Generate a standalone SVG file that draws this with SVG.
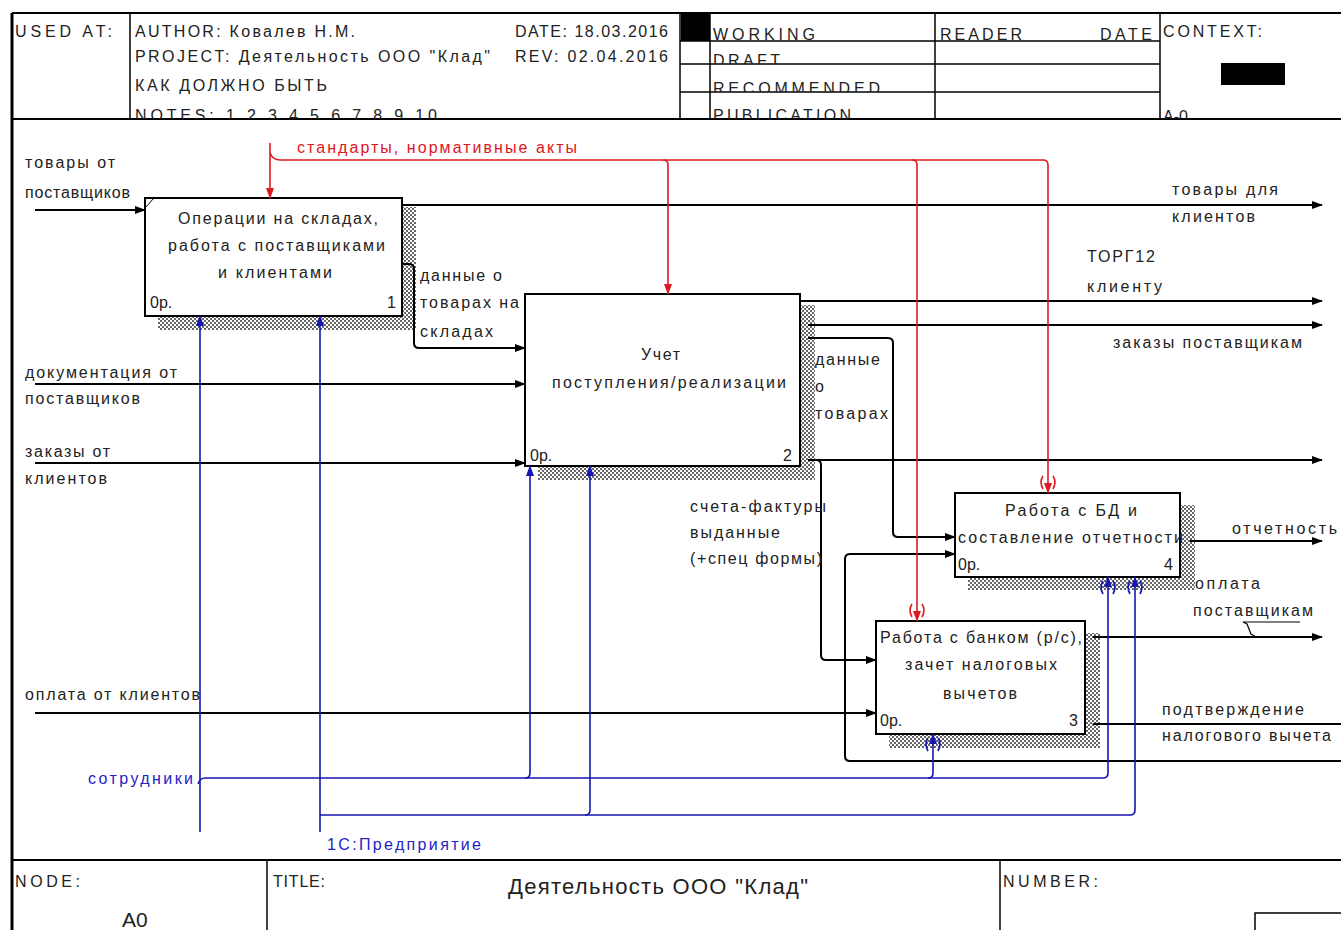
<svg xmlns="http://www.w3.org/2000/svg" width="1341" height="930" viewBox="0 0 1341 930">
<style>
text{font-family:"Liberation Sans",Arial,sans-serif;fill:#222}
.h{font-size:16px}
.l{font-size:16px}
.b{font-size:16px}
.red{fill:#e0141c}
.blue{fill:#2323c8}
.frame{stroke:#000;fill:none}
.box{fill:#fff;stroke:#000;stroke-width:2}
.shadow{fill:url(#hatch)}
.k{stroke:#000;stroke-width:2;fill:none}
.r{stroke:#dd1a22;stroke-width:1.6;fill:none}
.u{stroke:#1616b0;stroke-width:1.6;fill:none}
.ka{marker-end:url(#ak)}
.ra{marker-end:url(#ar)}
.ua{marker-end:url(#au)}
</style>
<defs>
<pattern id="hatch" width="4" height="4" patternUnits="userSpaceOnUse">
<rect width="4" height="4" fill="#fff"/>
<rect x="0" y="0" width="2" height="2" fill="#666"/>
<rect x="2" y="2" width="2" height="2" fill="#666"/>
</pattern>
<marker id="ak" markerWidth="11" markerHeight="8" refX="10" refY="4" orient="auto" markerUnits="userSpaceOnUse"><path d="M0,0 L11,4 L0,8 z" fill="#000"/></marker>
<marker id="ar" markerWidth="11" markerHeight="8" refX="10" refY="4" orient="auto" markerUnits="userSpaceOnUse"><path d="M0,0 L11,4 L0,8 z" fill="#dd1a22"/></marker>
<marker id="au" markerWidth="11" markerHeight="8" refX="10" refY="4" orient="auto" markerUnits="userSpaceOnUse"><path d="M0,0 L11,4 L0,8 z" fill="#1616b0"/></marker>
<clipPath id="c0"><rect x="12" y="13" width="668" height="106"/></clipPath>
<clipPath id="c1"><rect x="710" y="13" width="225" height="28"/></clipPath>
<clipPath id="c2"><rect x="710" y="41" width="225" height="23"/></clipPath>
<clipPath id="c3"><rect x="710" y="64" width="225" height="28"/></clipPath>
<clipPath id="c4"><rect x="710" y="92" width="225" height="27"/></clipPath>
<clipPath id="c5"><rect x="935" y="13" width="225" height="28"/></clipPath>
<clipPath id="c6"><rect x="1160" y="13" width="181" height="106"/></clipPath>
</defs>
<rect width="1341" height="930" fill="#fff"/>

<g id="header">
<line x1="12" y1="13" x2="1341" y2="13" class="frame" stroke-width="2"/>
<line x1="12" y1="13" x2="12" y2="930" class="frame" stroke-width="3"/>
<line x1="12" y1="119" x2="1341" y2="119" class="frame" stroke-width="2"/>
<line x1="130" y1="13" x2="130" y2="119" class="frame" stroke-width="1.5"/>
<line x1="680" y1="13" x2="680" y2="119" class="frame" stroke-width="1.5"/>
<line x1="710" y1="13" x2="710" y2="119" class="frame" stroke-width="1.5"/>
<line x1="935" y1="13" x2="935" y2="119" class="frame" stroke-width="1.5"/>
<line x1="1160" y1="13" x2="1160" y2="119" class="frame" stroke-width="1.5"/>
<line x1="680" y1="41" x2="1160" y2="41" class="frame" stroke-width="1.5"/>
<line x1="680" y1="64" x2="1160" y2="64" class="frame" stroke-width="1.5"/>
<line x1="680" y1="92" x2="1160" y2="92" class="frame" stroke-width="1.5"/>
<rect x="681" y="14" width="29" height="27" fill="#000"/>
<rect x="1221" y="63" width="64" height="22" fill="#000"/>
<text x="15" y="37" class="h" textLength="97" lengthAdjust="spacing">USED AT:</text>
<g clip-path="url(#c0)">
<text x="135" y="37" class="h" textLength="220" lengthAdjust="spacing">AUTHOR:  Ковалев Н.М.</text>
<text x="515" y="37" class="h" textLength="153" lengthAdjust="spacing">DATE: 18.03.2016</text>
<text x="135" y="62" class="h" textLength="355" lengthAdjust="spacing">PROJECT:  Деятельность ООО "Клад"</text>
<text x="515" y="62" class="h" textLength="153" lengthAdjust="spacing">REV:  02.04.2016</text>
<text x="135" y="91" class="h" textLength="192" lengthAdjust="spacing">КАК ДОЛЖНО БЫТЬ</text>
<text x="135" y="121" class="h" textLength="302" lengthAdjust="spacing">NOTES:  1 2 3 4 5 6 7 8 9 10</text>
</g>
<text x="713" y="40" class="h" clip-path="url(#c1)" textLength="102" lengthAdjust="spacing">WORKING</text>
<text x="713" y="66" class="h" clip-path="url(#c2)" textLength="67" lengthAdjust="spacing">DRAFT</text>
<text x="713" y="94" class="h" clip-path="url(#c3)" textLength="167" lengthAdjust="spacing">RECOMMENDED</text>
<text x="713" y="121" class="h" clip-path="url(#c4)" textLength="138" lengthAdjust="spacing">PUBLICATION</text>
<text x="940" y="40" class="h" clip-path="url(#c5)" textLength="82" lengthAdjust="spacing">READER</text>
<text x="1100" y="40" class="h" clip-path="url(#c5)" textLength="52" lengthAdjust="spacing">DATE</text>
<text x="1163" y="37" class="h" textLength="99" lengthAdjust="spacing">CONTEXT:</text>
<text x="1163" y="122" class="h" clip-path="url(#c6)">A-0</text>
</g>

<g id="footer">
<line x1="12" y1="860" x2="1341" y2="860" class="frame" stroke-width="2"/>
<line x1="267" y1="860" x2="267" y2="930" class="frame" stroke-width="1.5"/>
<line x1="1000" y1="860" x2="1000" y2="930" class="frame" stroke-width="1.5"/>
<rect x="1255" y="913" width="90" height="20" class="frame" stroke-width="1.5"/>
<text x="15" y="887" class="h" textLength="65" lengthAdjust="spacing">NODE:</text>
<text x="122" y="927" style="font-size:21px">A0</text>
<text x="273" y="887" class="h" textLength="52" lengthAdjust="spacing">TITLE:</text>
<text x="508" y="894" style="font-size:22px" textLength="300" lengthAdjust="spacing">Деятельность ООО "Клад"</text>
<text x="1003" y="887" class="h" textLength="95" lengthAdjust="spacing">NUMBER:</text>
</g>

<g id="node1">
<rect x="402" y="207" width="14" height="123" class="shadow"/>
<rect x="158" y="316" width="258" height="14" class="shadow"/>
<rect x="145" y="198" width="257" height="118" class="box"/>
<line x1="146" y1="207" x2="153" y2="199" stroke="#000" stroke-width="1"/>
<text x="178" y="224" class="b" textLength="200" lengthAdjust="spacing">Операции  на складах,</text>
<text x="168" y="251" class="b" textLength="217" lengthAdjust="spacing">работа с поставщиками</text>
<text x="218" y="278" class="b" textLength="114" lengthAdjust="spacing">и клиентами</text>
<text x="150" y="308" class="b">0р.</text>
<text x="387" y="308" class="b">1</text>
</g>

<g id="node2">
<rect x="800" y="305" width="15" height="175" class="shadow"/>
<rect x="538" y="466" width="277" height="14" class="shadow"/>
<rect x="525" y="294" width="275" height="172" class="box"/>
<text x="641" y="360" class="b" textLength="39" lengthAdjust="spacing">Учет</text>
<text x="552" y="388" class="b" textLength="234" lengthAdjust="spacing">поступления/реализации</text>
<text x="530" y="461" class="b">0р.</text>
<text x="783" y="461" class="b">2</text>
</g>

<g id="node4">
<rect x="1180" y="505" width="15" height="85" class="shadow"/>
<rect x="968" y="577" width="227" height="13" class="shadow"/>
<rect x="955" y="493" width="225" height="84" class="box"/>
<text x="1005" y="516" class="b" textLength="132" lengthAdjust="spacing">Работа с БД и</text>
<text x="958" y="543" class="b" textLength="225" lengthAdjust="spacing">составление отчетности</text>
<text x="958" y="570" class="b">0р.</text>
<text x="1164" y="570" class="b">4</text>
</g>

<g id="node3">
<rect x="1085" y="633" width="15" height="115" class="shadow"/>
<rect x="889" y="734" width="211" height="14" class="shadow"/>
<rect x="876" y="621" width="209" height="113" class="box"/>
<text x="880" y="643" class="b" textLength="202" lengthAdjust="spacing">Работа с банком (р/с),</text>
<text x="905" y="670" class="b" textLength="152" lengthAdjust="spacing">зачет налоговых</text>
<text x="943" y="699" class="b" textLength="74" lengthAdjust="spacing">вычетов</text>
<text x="880" y="726" class="b">0р.</text>
<text x="1069" y="726" class="b">3</text>
</g>

<g id="connectors">
<path class="k ka" d="M35,210 H145"/>
<path class="k ka" d="M402,205 H1322"/>
<path class="k ka" d="M402,264 H409 Q414,264 414,269 V343 Q414,348 419,348 H525"/>
<path class="k ka" d="M35,384 H525"/>
<path class="k ka" d="M35,463 H525"/>
<path class="k ka" d="M800,301 H1322"/>
<path class="k ka" d="M808,325 H1322"/>
<path class="k ka" d="M808,338 H888 Q893,338 893,343 V532 Q893,537 898,537 H955"/>
<path class="k ka" d="M808,460 H1322"/>
<path class="k ka" d="M816,460 Q821,460 821,465 V655 Q821,660 826,660 H876"/>
<path class="k ka" d="M35,713 H876"/>
<path class="k ka" d="M1190,541 H1322"/>
<path class="k ka" d="M1093,637 H1322"/>
<path class="k" d="M1093,724 H1341"/>
<path class="k ka" d="M1341,761 H850 Q845,761 845,756 V559 Q845,554 850,554 H955"/>
<path d="M1243,622 L1247,624 L1251,634 L1256,637" stroke="#000" stroke-width="1.2" fill="none"/>
<line x1="1243" y1="622" x2="1300" y2="622" stroke="#000" stroke-width="1.2"/>
<path class="r ra" d="M270,143 V198"/>
<path class="r" d="M270,153 Q273,160 280,160 H663 Q668,160 668,165"/>
<path class="r ra" d="M668,165 V294"/>
<path class="r" d="M663,160 H912 Q917,160 917,165"/>
<path class="r ra" d="M917,165 V621"/>
<path class="r" d="M912,160 H1043 Q1048,160 1048,165"/>
<path class="r ra" d="M1048,165 V493"/>
<path class="r" d="M1043,476 Q1039,482 1043,489 M1053,476 Q1057,482 1053,489"/>
<path class="r" d="M912,604 Q908,610 912,617 M922,604 Q926,610 922,617"/>
<path class="u ua" d="M200,832 V316"/>
<path class="u ua" d="M320,832 V316"/>
<path class="u" d="M198,784 Q200,778 205,778 H525 Q530,778 530,773"/>
<path class="u ua" d="M530,773 V466"/>
<path class="u" d="M525,778 H928 Q933,778 933,773"/>
<path class="u ua" d="M933,773 V734"/>
<path class="u" d="M928,778 H1103 Q1108,778 1108,773"/>
<path class="u ua" d="M1108,773 V577"/>
<path class="u" d="M320,815 H585 Q590,815 590,810"/>
<path class="u ua" d="M590,810 V466"/>
<path class="u" d="M585,815 H1130 Q1135,815 1135,810"/>
<path class="u ua" d="M1135,810 V577"/>
<path class="u" d="M1103,581 Q1099,587 1103,594 M1113,581 Q1117,587 1113,594"/>
<path class="u" d="M1130,581 Q1126,587 1130,594 M1140,581 Q1144,587 1140,594"/>
<path class="u" d="M928,738 Q924,744 928,751 M938,738 Q942,744 938,751"/>
</g>

<g id="labels">
<text x="25" y="168" class="l" textLength="90" lengthAdjust="spacing">товары от</text>
<text x="25" y="198" class="l" textLength="105" lengthAdjust="spacing">поставщиков</text>
<text x="297" y="153" class="l red" textLength="280" lengthAdjust="spacing">стандарты, нормативные акты</text>
<text x="420" y="281" class="l" textLength="82" lengthAdjust="spacing">данные о</text>
<text x="420" y="308" class="l" textLength="99" lengthAdjust="spacing">товарах на</text>
<text x="420" y="337" class="l" textLength="73" lengthAdjust="spacing">складах</text>
<text x="1172" y="195" class="l" textLength="106" lengthAdjust="spacing">товары для</text>
<text x="1172" y="222" class="l" textLength="83" lengthAdjust="spacing">клиентов</text>
<text x="1087" y="262" class="l" textLength="68" lengthAdjust="spacing">ТОРГ12</text>
<text x="1087" y="292" class="l" textLength="75" lengthAdjust="spacing">клиенту</text>
<text x="1113" y="348" class="l" textLength="189" lengthAdjust="spacing">заказы поставщикам</text>
<text x="815" y="365" class="l" textLength="65" lengthAdjust="spacing">данные</text>
<text x="815" y="392" class="l">о</text>
<text x="815" y="419" class="l" textLength="73" lengthAdjust="spacing">товарах</text>
<text x="25" y="378" class="l" textLength="152" lengthAdjust="spacing">документация от</text>
<text x="25" y="404" class="l" textLength="115" lengthAdjust="spacing">поставщиков</text>
<text x="25" y="457" class="l" textLength="85" lengthAdjust="spacing">заказы от</text>
<text x="25" y="484" class="l" textLength="82" lengthAdjust="spacing">клиентов</text>
<text x="690" y="512" class="l" textLength="136" lengthAdjust="spacing">счета-фактуры</text>
<text x="690" y="538" class="l" textLength="90" lengthAdjust="spacing">выданные</text>
<text x="690" y="564" class="l" textLength="132" lengthAdjust="spacing">(+спец формы)</text>
<text x="1232" y="534" class="l" textLength="105" lengthAdjust="spacing">отчетность</text>
<text x="1195" y="589" class="l" textLength="65" lengthAdjust="spacing">оплата</text>
<text x="1193" y="616" class="l" textLength="120" lengthAdjust="spacing">поставщикам</text>
<text x="1162" y="715" class="l" textLength="142" lengthAdjust="spacing">подтверждение</text>
<text x="1162" y="741" class="l" textLength="169" lengthAdjust="spacing">налогового вычета</text>
<text x="25" y="700" class="l" textLength="175" lengthAdjust="spacing">оплата от клиентов</text>
<text x="88" y="784" class="l blue" textLength="105" lengthAdjust="spacing">сотрудники</text>
<text x="327" y="850" class="l blue" textLength="154" lengthAdjust="spacing">1С:Предприятие</text>
</g>
</svg>
